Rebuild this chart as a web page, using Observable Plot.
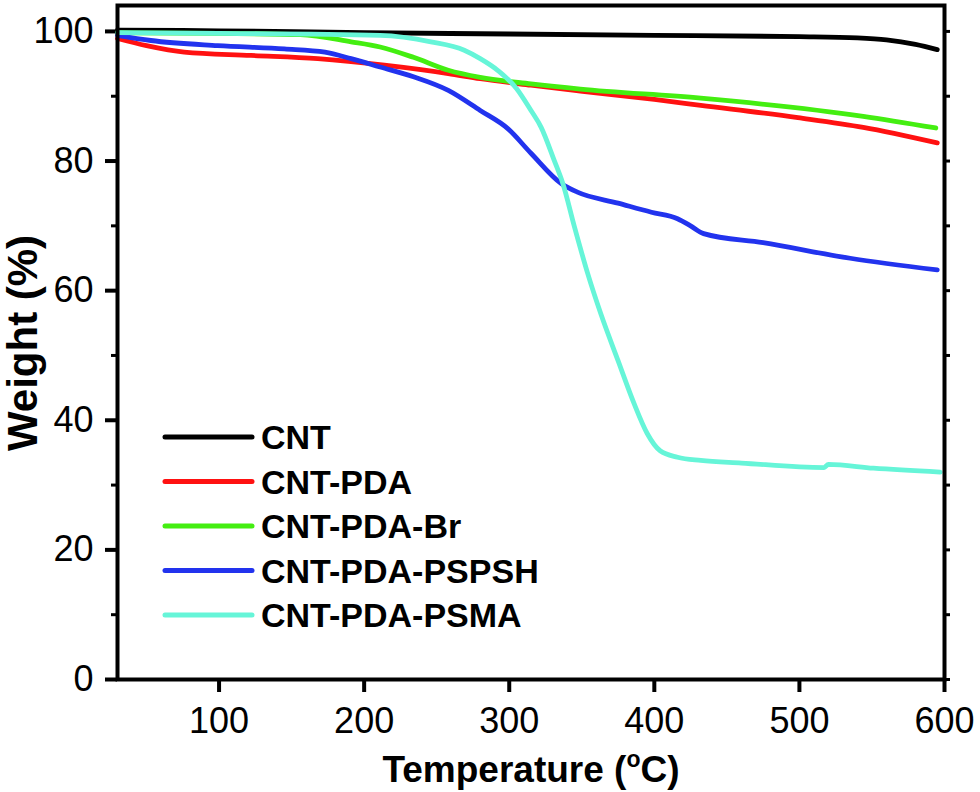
<!DOCTYPE html>
<html>
<head>
<meta charset="utf-8">
<script src="https://cdn.jsdelivr.net/npm/d3@7"></script>
<script src="https://cdn.jsdelivr.net/npm/@observablehq/plot@0.6"></script>
<style>
  html, body { margin: 0; padding: 0; background: #fff; }
  #chart { width: 980px; height: 792px; }
</style>
</head>
<body>
<div id="chart"></div>
<script>
// ---- data ----
const series = ["CNT", "CNT-PDA", "CNT-PDA-Br", "CNT-PDA-PSPSH", "CNT-PDA-PSMA"];
const colors = ["#000000", "#ff1111", "#44ee11", "#2233ee", "#66f5d8"];

const cntT = [30, 100, 200, 300, 400, 500, 540, 560, 580, 595];
const cntW = [100.2, 100.1, 99.8, 99.6, 99.4, 99.2, 99.0, 98.7, 98.0, 97.2];

const pdaT = [30, 50, 76, 122, 168, 214, 258, 280, 315, 349, 400, 432, 499, 544, 595];
const pdaW = [98.9, 97.8, 96.8, 96.3, 95.8, 94.8, 93.5, 92.7, 91.7, 90.8, 89.5, 88.6, 86.7, 85.2, 82.8];

const brT = [30, 100, 156, 191, 211, 234, 258, 280, 315, 349, 432, 544, 594];
const brW = [99.8, 99.7, 99.5, 98.4, 97.6, 96.0, 94.0, 92.9, 91.9, 91.1, 89.7, 86.9, 85.1];

const pspshT = [30, 53, 99, 145, 173, 191, 211, 234, 258, 280, 299, 315, 336, 347, 375, 398, 416, 425, 434, 475, 535, 595];
const pspshW = [99.4, 98.6, 97.8, 97.3, 96.8, 95.8, 94.5, 93.0, 90.9, 87.8, 85.0, 81.2, 76.5, 75.2, 73.5, 72.1, 71.1, 70.0, 68.8, 67.4, 65.0, 63.2];

const psmaT = [30, 100, 211, 246, 269, 280, 292, 305, 315, 322, 331, 337, 345, 354, 363, 375, 386, 395, 404, 416, 432, 460, 517, 520, 551, 597];
const psmaW = [99.8, 99.7, 99.4, 98.4, 97.1, 95.8, 94.0, 91.2, 87.8, 85.2, 80.1, 76.5, 69.8, 62.7, 56.5, 49.2, 42.6, 38.0, 35.3, 34.3, 33.8, 33.4, 32.7, 33.2, 32.6, 32.0];

const xTicks = [100, 200, 300, 400, 500, 600];
const yTicks = [0, 20, 40, 60, 80, 100];
const yMinor = [10, 30, 50, 70, 90];
const yAll = [0, 10, 20, 30, 40, 50, 60, 70, 80, 90, 100];

const xTitle = ["Temperature (", "o", "C)"];
const yTitle = "Weight (%)";

// ---- build table ----
const temps = [cntT, pdaT, brT, pspshT, psmaT];
const weights = [cntW, pdaW, brW, pspshW, psmaW];
const rows = series.flatMap((s, i) => temps[i].map((t, j) => ({series: s, t, w: weights[i][j]})));

const font = "'Liberation Sans', Arial, Helvetica, sans-serif";

const svg = Plot.plot({
  width: 980,
  height: 792,
  marginLeft: 117,
  marginRight: 36,
  marginTop: 5,
  marginBottom: 113,
  x: {domain: [30, 600]},
  y: {domain: [0, 104]},
  color: {domain: series, range: colors},
  style: {fontFamily: font, fontSize: "36px", color: "#000", background: "#fff"},
  marks: [
    Plot.axisX({ticks: xTicks, tickSize: 13, tickPadding: 15, strokeWidth: 4, fontSize: 36, label: null, tickFormat: d => String(d)}),
    Plot.axisY({ticks: yTicks, tickSize: 12, tickPadding: 12, strokeWidth: 4, fontSize: 36, label: null, tickFormat: d => String(d)}),
    Plot.axisY({ticks: yMinor, tickSize: 6, text: null, strokeWidth: 3, label: null}),
    Plot.axisY({anchor: "right", ticks: yAll, tickSize: 5, text: null, strokeWidth: 3, label: null}),
    Plot.lineY(rows, {x: "t", y: "w", z: "series", stroke: "series", strokeWidth: 4.8, curve: "monotone-x"}),
    Plot.frame({stroke: "#000", strokeWidth: 4})
  ]
});

document.getElementById("chart").appendChild(svg);

// ---- axis titles ----
const s = d3.select(svg);
const xt = s.append("text")
  .attr("x", 531).attr("y", 782)
  .attr("text-anchor", "middle")
  .attr("font-family", font).attr("font-weight", "bold").attr("font-size", 37)
  .attr("fill", "#000");
xt.append("tspan").text(xTitle[0]);
xt.append("tspan").attr("dy", -15).attr("font-size", 23).text(xTitle[1]);
xt.append("tspan").attr("dy", 15).text(xTitle[2]);

s.append("text")
  .attr("transform", "translate(37,343) rotate(-90)")
  .attr("text-anchor", "middle")
  .attr("font-family", font).attr("font-weight", "bold").attr("font-size", 42)
  .attr("fill", "#000")
  .text(yTitle);

// ---- legend ----
const lg = s.append("g");
series.forEach((name, i) => {
  const cy = 437 + 44.5 * i;
  lg.append("line")
    .attr("x1", 165).attr("x2", 252).attr("y1", cy).attr("y2", cy)
    .attr("stroke", colors[i]).attr("stroke-width", 5).attr("stroke-linecap", "round");
  lg.append("text")
    .attr("x", 261).attr("y", cy + 12)
    .attr("text-anchor", "start")
    .attr("font-family", font).attr("font-weight", "bold").attr("font-size", 34)
    .attr("fill", "#000")
    .text(name);
});
</script>
</body>
</html>
